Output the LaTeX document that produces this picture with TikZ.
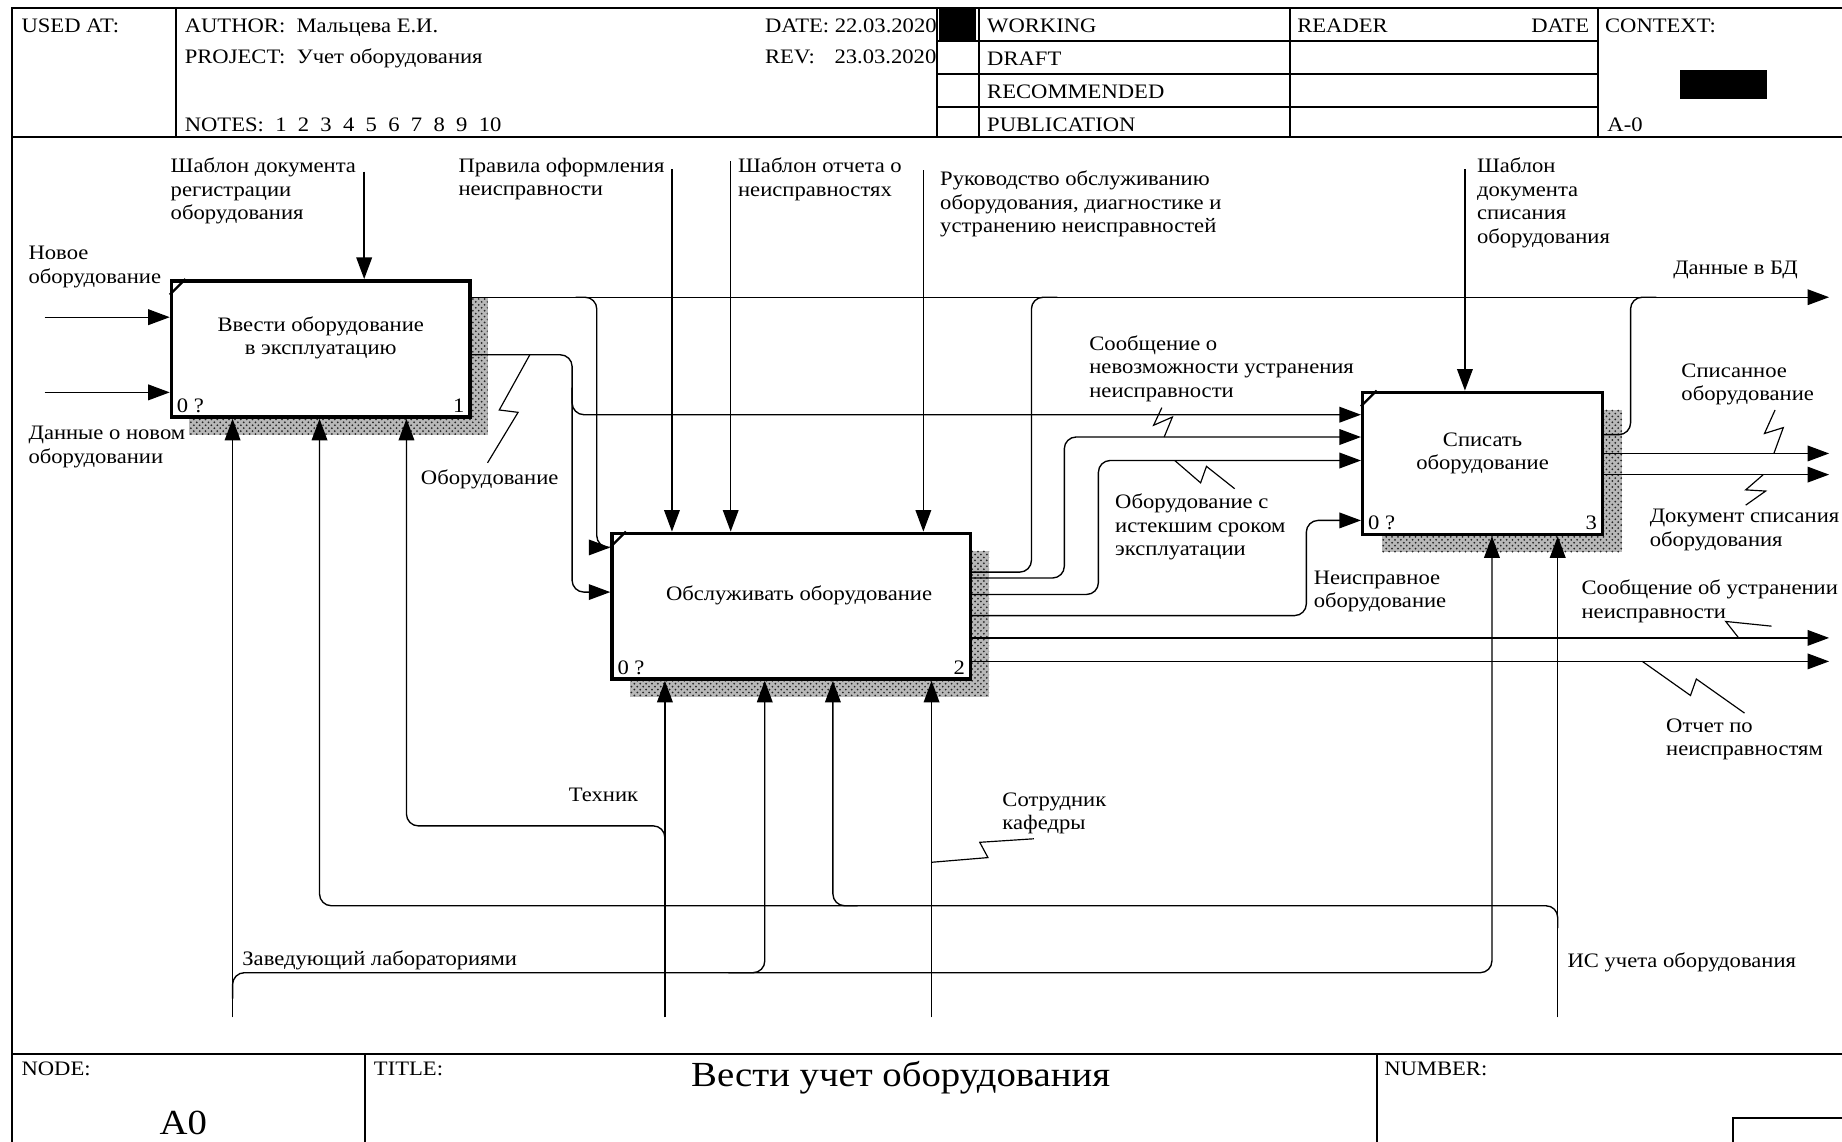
\documentclass[tikz,border=0pt]{standalone}
\usepackage{fontspec}
\setmainfont{Liberation Serif}[FakeStretch=1.1]
\usetikzlibrary{arrows.meta,patterns,calc}
\newcommand\lblfont{\fontsize{10.5}{12}\selectfont}
\newcommand\bigfont{\fontsize{18}{20}\selectfont}

\begin{document}
\begin{tikzpicture}[x=0.6pt, y=-0.6pt,
	rim/.style={line width=1pt},
	fbox/.style={draw, line width=1.8pt, fill=white, inner sep=0pt},
	hatch/.style={fill=black!28, postaction={pattern=crosshatch dots, pattern color=black!85}},
	conn/.style={line width=0.7pt, rounded corners=6pt},
	arr/.style={conn, -{Triangle[length=11pt,width=8pt]}},
	zig/.style={line width=0.6pt},
	txt/.style={anchor=north west, align=left, inner sep=0pt, yshift=-2pt, font=\lblfont, execute at begin node=\strut},
	ftxt/.style={align=center, inner sep=0pt, font=\lblfont},
	num/.style={inner xsep=3.5pt, inner ysep=3pt, font=\lblfont},
	bigtxt/.style={inner sep=0pt, font=\bigfont}]
	% Sheet
	\fill[white] (0,0) rectangle (1568,972);
	\useasboundingbox (0,0) rectangle (1568,972);
	\draw[rim] (10,7) rectangle (1600,1000);
	% Header
	\draw[rim] (10,117) -- (1600,117);
	\foreach \x in {150,798,833,1098,1360}
		\draw[rim] (\x,7) -- (\x,117);
	\foreach \y in {35,63,91}
		\draw[rim] (798,\y) -- (1360,\y);
	\node[txt] (usedat) at (18,10) {USED AT:};
	\node[txt] (author) at (157,10) {AUTHOR:~~Мальцева Е.И.};
	\node[txt] (project) at (157,36) {PROJECT:~~Учет оборудования};
	\node[txt] (notes) at (157,94) {NOTES:~~1~~2~~3~~4~~5~~6~~7~~8~~9~~10};
	\node[txt] (date) at (651,10) {DATE: 22.03.2020};
	\node[txt] (rev) at (651,36) {REV:\hspace{10pt}23.03.2020};
	\fill (799,7) rectangle (831,35);
	\node[txt] (working) at (840,10) {WORKING};
	\node[txt] (draft) at (840,38) {DRAFT};
	\node[txt] (recom) at (840,66) {RECOMMENDED};
	\node[txt] (publ) at (840,94) {PUBLICATION};
	\node[txt] (reader) at (1104,10) {READER};
	\node[txt, anchor=north east] (rdate) at (1353,10) {DATE};
	\node[txt] (context) at (1366,10) {CONTEXT:};
	\fill (1430,60) rectangle (1504,84);
	\node[txt] (ctxid) at (1368,94) {A-0};
	% Footer
	\draw[rim] (10,897) -- (1600,897);
	\draw[rim] (311,897) -- (311,1000);
	\draw[rim] (1172,897) -- (1172,1000);
	\draw[rim] (1475,952) rectangle (1600,1000);
	\node[txt] (nodelbl) at (18,898) {NODE:};
	\node[txt] (titlelbl) at (318,898) {TITLE:};
	\node[txt] (numlbl) at (1178,898) {NUMBER:};
	\node[bigtxt, anchor=west] (title) at (588,917) {Вести учет оборудования};
	\node[bigtxt] (nodeid) at (156,956) {A0};

	% Boxes
	\fill[hatch] (161,254) rectangle (415,370);
	\fill[hatch] (536,469) rectangle (842,593);
	\fill[hatch] (1176,349) rectangle (1381,470);
	\node[fbox, minimum width=254*0.6pt, minimum height=116*0.6pt] (b1) at (273,297) {};
	\node[fbox, minimum width=305*0.6pt, minimum height=124*0.6pt] (b2) at (673.5,516) {};
	\node[fbox, minimum width=204*0.6pt, minimum height=121*0.6pt] (b3) at (1262,394.5) {};
	\foreach \b in {b1,b2,b3}
		\draw[line width=1.2pt] ([yshift=-8pt]\b.north west) -- ([xshift=8pt]\b.north west);
	\node[ftxt] (t1) at ([yshift=5.7pt]b1.center) {Ввести оборудование\\в эксплуатацию};
	\node[ftxt] (t2) at ([xshift=4pt,yshift=5.4pt]b2.center) {Обслуживать оборудование};
	\node[ftxt] (t3) at ([yshift=5pt]b3.center) {Списать\\оборудование};
	\node[num, anchor=south west] (n1a) at (b1.south west) {0 ?};
	\node[num, anchor=south east] (n1b) at (b1.south east) {1};
	\node[num, anchor=south west] (n2a) at (b2.south west) {0 ?};
	\node[num, anchor=south east] (n2b) at (b2.south east) {2};
	\node[num, anchor=south west] (n3a) at (b3.south west) {0 ?};
	\node[num, anchor=south east] (n3b) at (b3.south east) {3};

	% Inputs and controls
	\coordinate (inp1) at (38,270);
	\coordinate (inp2) at (38,334);
	\coordinate (ctl1) at (310,146);
	\coordinate (ctl2) at (572,144);
	\coordinate (ctl3) at (622,137);
	\coordinate (ctl4) at (786,145);
	\coordinate (ctl5) at (1247,144);
	\draw[arr] (inp1) -- (inp1 -| b1.west);
	\draw[arr] (inp2) -- (inp2 -| b1.west);
	\draw[arr] (ctl1) -- (ctl1 |- b1.north);
	\draw[arr] (ctl2) -- (ctl2 |- b2.north);
	\draw[arr] (ctl3) -- (ctl3 |- b2.north);
	\draw[arr] (ctl4) -- (ctl4 |- b2.north);
	\draw[arr] (ctl5) -- (ctl5 |- b3.north);

	% Mechanisms
	\coordinate (mch1) at (198,866);
	\coordinate (mch2) at (1326,866);
	\coordinate (mch3) at (566,866);
	\coordinate (mch4) at (793,866);
	\draw[arr] (mch1) -- (mch1 |- b1.south);
	\draw[arr] (mch1 |- 0,850) -- (mch1 |- 0,828) -- (1270,828) -- (1270,828 |- b3.south);
	\draw[arr] (620,828) -- (651,828) -- (651,828 |- b2.south);
	\draw[arr] (mch2) -- (mch2 |- b3.south);
	\draw[arr] (mch2 |- 0,790) -- (mch2 |- 0,771) -- (272,771) -- (272,771 |- b1.south);
	\draw[arr] (730,771) -- (709,771) -- (709,771 |- b2.south);
	\draw[arr] (mch3) -- (mch3 |- b2.south);
	\draw[arr] (mch3 |- 0,722) -- (mch3 |- 0,703) -- (346,703) -- (346,703 |- b1.south);
	\draw[arr] (mch4) -- (mch4 |- b2.south);

	% Outputs
	\coordinate (out1) at (1557,253);
	\coordinate (out2) at (1557,386);
	\coordinate (out3) at (1557,404);
	\coordinate (out4) at (1557,543);
	\coordinate (out5) at (1557,563);
	\draw[arr] (out1 -| b1.east) -- (out1);
	\draw[arr] (490,253) -- (508,253) -- (508,466) -- (b2.west |- 0,466);
	\draw[arr] (b1.east |- 0,302) -- (487,302) -- (487,504) -- (b2.west |- 0,504);
	\draw[arr] (487,330) -- (487,353) -- (b3.west |- 0,353);
	\draw[conn] (b2.east |- 0,487) -- (878,487) -- (878,253) -- (900,253);
	\draw[arr] (b2.east |- 0,492) -- (906,492) -- (906,372) -- (b3.west |- 0,372);
	\draw[arr] (b2.east |- 0,506) -- (935,506) -- (935,392) -- (b3.west |- 0,392);
	\draw[arr] (b2.east |- 0,524) -- (1112,524) -- (1112,443) -- (b3.west |- 0,443);
	\draw[arr] (b2.east |- out4) -- (out4);
	\draw[arr] (b2.east |- out5) -- (out5);
	\draw[conn] (b3.east |- 0,370) -- (1388,370) -- (1388,253) -- (1410,253);
	\draw[arr] (b3.east |- out2) -- (out2);
	\draw[arr] (b3.east |- out3) -- (out3);

	% Squiggles
	\draw[zig] (451,302) -- (425,349) -- (441,351) -- (415,394);
	\draw[zig] (989,347) -- (982,362) -- (998,355) -- (991,372);
	\draw[zig] (1000,392) -- (1022,411) -- (1027,397) -- (1051,416);
	\draw[zig] (1511,349) -- (1502,369) -- (1518,364) -- (1510,386);
	\draw[zig] (1501,404) -- (1486,417) -- (1503,418) -- (1486,430);
	\draw[zig] (1508,533) -- (1469,529) -- (1480,543);
	\draw[zig] (1398,563) -- (1439,592) -- (1444,578) -- (1485,607);
	\draw[zig] (793,734) -- (841,730) -- (834,717) -- (880,714);

	% Labels
	\node[txt] (lctl1) at (145,131) {Шаблон документа\\регистрации\\оборудования};
	\node[txt] (linp1) at (24,206) {Новое\\оборудование};
	\node[txt] (linp2) at (24,359) {Данные о новом\\оборудовании};
	\node[txt] (lctl2) at (390,131) {Правила оформления\\неисправности};
	\node[txt] (lctl3) at (628,131) {Шаблон отчета о\\неисправностях};
	\node[txt] (lctl4) at (800,142) {Руководство обслуживанию\\оборудования, диагностике и\\устранению неисправностей};
	\node[txt] (lctl5) at (1257,131) {Шаблон\\документа\\списания\\оборудования};
	\node[txt] (lout1) at (1424,216) {Данные в БД};
	\node[txt] (lmsg) at (927,282) {Сообщение о\\невозможности устранения\\неисправности};
	\node[txt] (lout2) at (1431,306) {Списанное\\оборудование};
	\node[txt] (lequip) at (358,395) {Оборудование};
	\node[txt] (lexp) at (949,417) {Оборудование с\\истекшим сроком\\эксплуатации};
	\node[txt] (lout3) at (1404,430) {Документ списания\\оборудования};
	\node[txt] (lfault) at (1118,482) {Неисправное\\оборудование};
	\node[txt] (lout4) at (1346,490) {Сообщение об устранении\\неисправности};
	\node[txt] (lout5) at (1418,608) {Отчет по\\неисправностям};
	\node[txt] (lmch3) at (484,665) {Техник};
	\node[txt] (lmch4) at (853,671) {Сотрудник\\кафедры};
	\node[txt] (lmch1) at (206,804) {Заведующий лабораториями};
	\node[txt] (lmch2) at (1334,806) {ИС учета оборудования};
\end{tikzpicture}
\end{document}
